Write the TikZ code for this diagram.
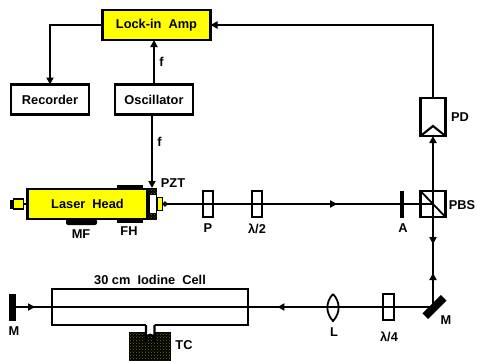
\documentclass[tikz,border=0pt]{standalone}
\usepackage{fontspec}
\setmainfont{Liberation Sans}
\usepackage{xcolor}
\usetikzlibrary{arrows.meta, decorations.markings, patterns}
\definecolor{laseryellow}{HTML}{FFFF00}
\definecolor{stipple}{HTML}{77771A}

\begin{document}
\begin{tikzpicture}[
  x=1pt, y=-1pt,
  every node/.style={inner sep=0pt, outer sep=0pt},
  lbl/.style={font=\fontsize{12.8}{14}\selectfont\bfseries},
  unit/.style={draw=black, line width=2.1pt, fill=white, minimum width=78pt, minimum height=30pt, lbl},
  lockin/.style={unit, fill=laseryellow, minimum width=108pt},
  plate/.style={draw=black, line width=1.8pt, minimum width=10pt, minimum height=26pt},
  arr/.style={-{Stealth[length=7pt, width=7pt, inset=0pt]}, line width=1.8pt},
  beam/.style={line width=1.7pt},
  midarr/.style={postaction={decorate}, decoration={markings, mark=at position #1 with {\arrow{Stealth[length=7pt, width=7pt, inset=0pt]}}}},
  thickbar/.style={fill=black, minimum width=#1},
  heater/.style={draw=black, line width=1pt, fill=black, postaction={pattern=crosshatch dots, pattern color=stipple}},
]
\useasboundingbox (0,0) rectangle (477,360);

% Electronics
\node[lockin] (amp) at (156.5,25) {Lock-in\ \ Amp};
\node[unit] (rec) at (50,99.5) {Recorder};
\node[unit] (osc) at (154,99.5) {Oscillator};
\node[lbl] (f1) at (161.5,62) {f};
\node[lbl] (f2) at (159.5,142) {f};

% Laser
\node[draw=black, line width=2.1pt, fill=laseryellow, minimum width=120pt, minimum height=30pt, lbl] (laser) at (87.5,204) {Laser\ \ Head};
\node[thickbar=26pt, minimum height=4pt] (fh1) at (130,187) {};
\node[thickbar=26pt, minimum height=4pt] (fh2) at (130,221) {};
\node[thickbar=31pt, minimum height=6pt, rounded corners=2pt] (mf) at (81.5,222) {};
\node[draw=black, line width=1.7pt, fill=laseryellow, minimum width=10pt, minimum height=10pt] (tail) at (18.5,204) {};
\node[thickbar=3pt, minimum height=9pt] (tailcap) at (11.5,204) {};
\draw[line width=1.7pt] (tail.east) -- (laser.west);
\node[draw=black, line width=1.6pt, fill=white, minimum width=7pt, minimum height=31pt] (pzt) at (153,204) {};
\node[heater, minimum width=8pt, minimum height=6pt] (pzta) at (152.5,191.5) {};
\node[heater, minimum width=8pt, minimum height=6pt] (pztb) at (152.5,216.5) {};
\node[draw=black, line width=1.7pt, fill=laseryellow, minimum width=5pt, minimum height=13pt] (nose) at (160,204) {};
\node[draw=black, line width=1.5pt, fill=white, circle, minimum size=3.5pt] (out) at (165,204) {};
\node[lbl] (mfl) at (81,234) {MF};
\node[lbl] (fhl) at (129,231) {FH};
\node[lbl] (pztl) at (173,183) {PZT};

% Optics on the upper beam
\node[plate] (pol) at (208,204) {};
\node[plate] (hwp) at (257,204) {};
\node[thickbar=4pt, minimum height=27pt] (ana) at (402,204) {};
\node[draw=black, line width=2.1pt, minimum width=25pt, minimum height=26pt] (pbs) at (433,204) {};
\node[draw=black, line width=2.1pt, minimum width=25pt, minimum height=38pt] (pd) at (433,117) {};
\draw[line width=2.1pt] (pd.south west) -- (433,126) -- (pd.south east);
\draw[line width=1.8pt] (pbs.north west) -- (pbs.south east);
\node[lbl] (pl) at (208,228) {P};
\node[lbl] (hwpl) at (257,229) {λ/2};
\node[lbl] (anal) at (403,228) {A};
\node[lbl] (pbsl) at (462,205) {PBS};
\node[lbl] (pdl) at (460,117) {PD};

% Optics on the lower beam
\node[thickbar=8pt, minimum height=26pt, rotate=-45] (m1) at (434.5,307) {};
\node[plate, minimum width=11pt] (qwp) at (388.5,307) {};
\draw[line width=1.8pt] (333,294) .. controls (340.5,302) and (340.5,313) .. (333,321) .. controls (325.5,313) and (325.5,302) .. (333,294);
\node[thickbar=7pt, minimum height=27pt] (m2) at (12.5,307) {};
\node[lbl] (m1l) at (446,320) {M};
\node[lbl] (qwpl) at (389,337) {λ/4};
\node[lbl] (lensl) at (334,332) {L};
\node[lbl] (m2l) at (14,331) {M};

% Cell and cold finger
\node[heater, minimum width=41pt, minimum height=28pt] (tc) at (149.5,346) {};
\node[draw=black, line width=2.1pt, minimum width=196pt, minimum height=36pt] (cell) at (150,307) {};
\fill[white] (146,323) -- (154.5,323) -- (154.5,339) arc (360:180:4.25) -- cycle;
\draw[line width=2.3pt] (146,325) -- (146,339) arc (180:360:4.25) -- (154.5,325);
\node[lbl] (celll) at (150,280) {30 cm\ \ Iodine\ \ Cell};
\node[lbl] (tcl) at (184,345) {TC};

% Signal lines
\draw[arr] (amp.west) -| (rec.north);
\draw[arr] (osc.north) -- (osc.north |- amp.south);
\draw[arr] (152,115) -- (152,188);
\draw[arr] (pd.north) |- (amp.east);

% Beam path
\draw[beam, midarr=0.64] (out.east) -- (pbs.center);
\draw[arr] (pbs.center) -- (pd.south);
\draw[beam, midarr=0.39] (pbs.center) -- (m1.center -| pbs.center);
\draw[beam, midarr=0.33] (m1.center -| pbs.center) -- (pbs.center);
\draw[beam, midarr=0.37] (m1.center -| pbs.center) -- (m2.center);
\draw[beam, midarr=0.57] (m2.center) -- (cell.west |- m2.center);
\end{tikzpicture}
\end{document}
